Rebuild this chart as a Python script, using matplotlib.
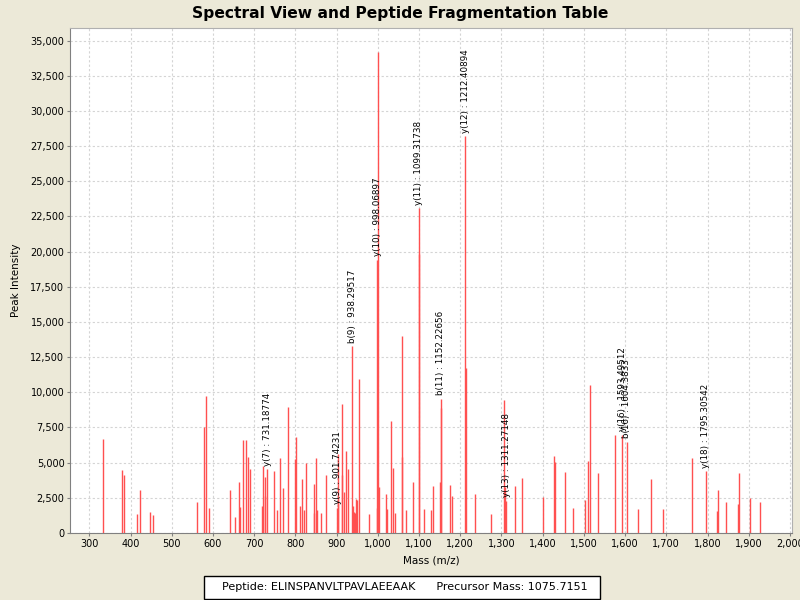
import matplotlib
matplotlib.use("Agg")
import matplotlib.pyplot as plt
from matplotlib.patches import Rectangle
from matplotlib.ticker import MultipleLocator, FuncFormatter

# unlabeled peaks (m/z, intensity)
peak_mz = [334, 378, 384, 416, 424, 448, 454, 560, 578, 584, 590, 642, 653,
           663, 666, 674, 679, 684, 689, 718, 721, 725, 727, 748, 755, 763,
           771, 781, 798, 801, 811, 815, 821, 826, 844, 845, 850, 852, 863,
           875, 903, 904, 912, 913, 919, 922, 928, 940, 942, 945, 947, 950,
           955, 979, 997, 999.5, 1003, 1019, 1023, 1033, 1038, 1041, 1058,
           1059, 1068, 1086, 1100, 1112, 1129, 1134, 1151, 1153, 1175, 1181,
           1213, 1235, 1274, 1306, 1308, 1334, 1351, 1401, 1428, 1430, 1454,
           1473, 1502, 1510, 1515, 1535, 1575, 1632, 1663, 1693, 1762, 1823,
           1826, 1845, 1875, 1877, 1903, 1928]
peak_int = [6700, 4500, 4100, 1370, 3080, 1490, 1300, 2200, 7540, 9760, 1800,
            3080, 1140, 3600, 1870, 6610, 6630, 5400, 4550, 1890, 4780, 2600,
            4000, 4380, 1660, 5350, 3220, 8960, 5260, 6830, 1940, 3860, 1660,
            5000, 3500, 1400, 5350, 1660, 1420, 4100, 5640, 2400, 4100, 9200,
            2890, 5800, 4520, 1900, 1500, 1400, 2450, 2370, 10950, 1340, 1800,
            34170, 3250, 2800, 1680, 7980, 4630, 1400, 14030, 5400, 1660, 3600,
            19800, 1740, 1660, 3360, 3600, 8880, 3410, 2650, 11700, 2780, 1370,
            9480, 3300, 3320, 3910, 2560, 5500, 5020, 4340, 1780, 2320, 5140,
            10540, 4270, 6990, 1700, 3860, 1730, 5350, 1590, 3030, 2230, 2060,
            4270, 2460, 2180]

# annotated fragment ions
ion_names = ["y(7)", "y(9)", "b(9)", "y(10)", "y(11)", "b(11)", "y(12)",
             "y(13)", "y(16)", "b(16)", "y(18)"]
ion_mz = [731.18774, 901.74231, 938.29517, 998.06897, 1099.31738, 1152.22656,
          1212.40894, 1311.27148, 1593.49512, 1604.3833, 1795.30542]
ion_int = [4550, 1780, 13270, 19430, 23080, 9530, 28200, 2300, 7000, 6500, 4380]

peptide = "ELINSPANVLTPAVLAEEAAK"
precursor = "1075.7151"

bg = "#ECE9D8"
bar_color = "#ff5050"

fig = plt.figure(figsize=(8, 6), dpi=100, facecolor=bg)
ax = fig.add_axes([0.0875, 0.1117, 0.9025, 0.8417])
ax.set_facecolor("white")

ax.vlines(peak_mz, 0, peak_int, color=bar_color, linewidth=1.0)
ax.vlines(ion_mz, 0, ion_int, color=bar_color, linewidth=1.0)

for name, mz, inten in zip(ion_names, ion_mz, ion_int):
    ax.annotate(f"{name} : {mz}", (mz, inten), xytext=(0, 2.5),
                textcoords="offset points", rotation=90, ha="center",
                va="bottom", fontsize=6.3)

ax.set_xlim(253, 2005)
ax.set_ylim(0, 35900)
ax.yaxis.set_major_locator(MultipleLocator(2500))
comma = FuncFormatter(lambda v, p: f"{int(v):,}")
ax.xaxis.set_major_formatter(comma)
ax.yaxis.set_major_formatter(comma)
ax.set_xticks([t for t in range(300, 2001, 100)])
ax.tick_params(labelsize=7, length=2, width=0.8, color="#808080", pad=2)

ax.grid(True, color="#d4d4d4", linestyle=(0, (2, 2)), linewidth=0.8)
ax.set_axisbelow(True)
for side in ["left", "bottom"]:
    ax.spines[side].set_color("#808080")
for side in ["top", "right"]:
    ax.spines[side].set_color("#b0b0b0")

ax.set_xlabel("Mass (m/z)", fontsize=7.5, labelpad=5)
ax.set_ylabel("Peak Intensity", fontsize=7.5, labelpad=7)
fig.text(0.5, 0.978, "Spectral View and Peptide Fragmentation Table",
         ha="center", va="center", fontsize=11.2, fontweight="bold")

# info box below the chart
fig.patches.append(Rectangle((0.255, 0.0017), 0.495, 0.0383,
                             transform=fig.transFigure, fc="white",
                             ec="black", lw=1.0))
fig.text(0.506, 0.021, f"Peptide: {peptide}      Precursor Mass: {precursor}",
         ha="center", va="center", fontsize=8)

fig.savefig("out.png", dpi=100, facecolor=bg)
